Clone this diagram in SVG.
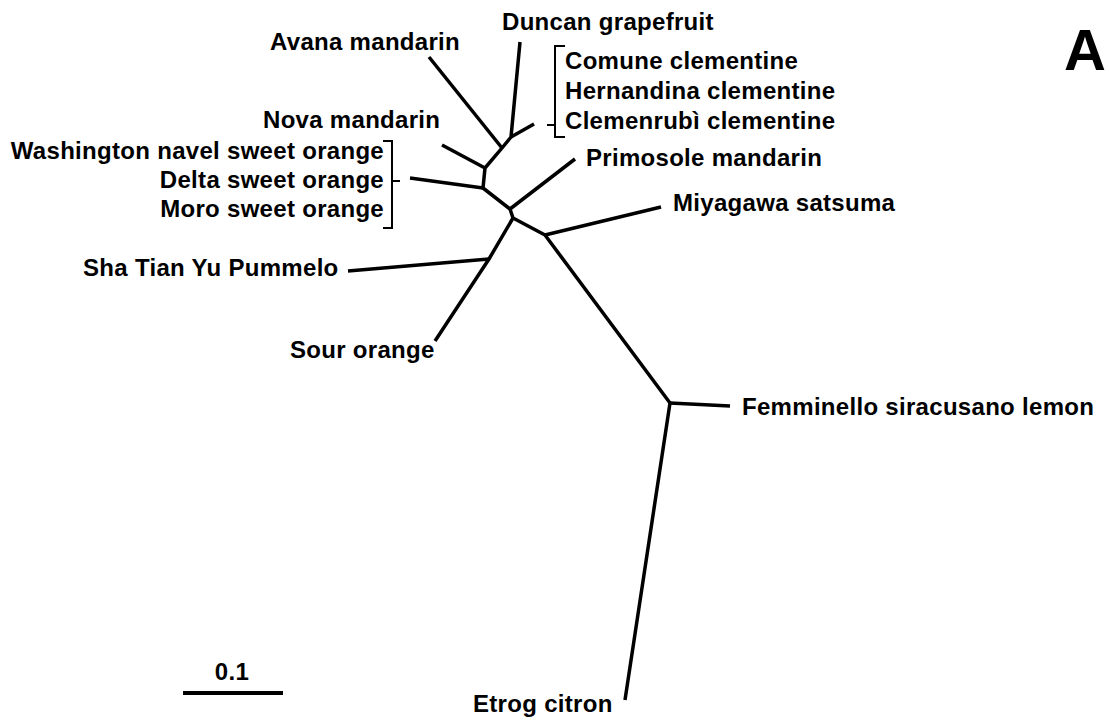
<svg xmlns="http://www.w3.org/2000/svg" width="1111" height="721" viewBox="0 0 1111 721">
<style>
.lbl{font-family:"Liberation Sans",Arial,sans-serif;font-weight:bold;font-size:24px;letter-spacing:0.3px;fill:#000}
.br{fill:none;stroke:#000;stroke-width:3.5;stroke-linejoin:round;stroke-linecap:butt}
.bk{fill:none;stroke:#000;stroke-width:2}
</style>
<rect width="1111" height="721" fill="#fff"/>
<g id="connectors">
<polyline class="br" points="520,42 511,137 502,148 485,168 483,188 510,209 513,218 545,235 670,403 625,700"/>
<polyline class="br" points="511,137 534,124"/>
<polyline class="br" points="429,57 502,148"/>
<polyline class="br" points="442,145 485,168"/>
<polyline class="br" points="410,178 483,188"/>
<polyline class="br" points="510,209 575,159"/>
<polyline class="br" points="513,218 489,259 435,341"/>
<polyline class="br" points="348,271 489,259"/>
<polyline class="br" points="545,235 661,207"/>
<polyline class="br" points="670,403 730,406"/>
<polyline class="bk" points="565,46 555,46 555,137 565,137"/>
<polyline class="bk" points="555,125 547,125"/>
<polyline class="bk" points="383,141 392,141 392,228 383,228"/>
<polyline class="bk" points="392,181 400,181"/>
</g>
<g id="duncan"><text class="lbl" x="502" y="30">Duncan grapefruit</text></g>
<g id="avana"><text class="lbl" x="270" y="50">Avana mandarin</text></g>
<g id="clementines">
<text class="lbl" x="565" y="69">Comune clementine</text>
<text class="lbl" x="565" y="99">Hernandina clementine</text>
<text class="lbl" x="565" y="129">Clemenrubì clementine</text>
</g>
<g id="nova"><text class="lbl" x="263" y="128">Nova mandarin</text></g>
<g id="sweet-oranges">
<text class="lbl" x="384" y="159" text-anchor="end">Washington navel sweet orange</text>
<text class="lbl" x="384" y="188" text-anchor="end">Delta sweet orange</text>
<text class="lbl" x="384" y="217" text-anchor="end">Moro sweet orange</text>
</g>
<g id="primosole"><text class="lbl" x="586" y="166">Primosole mandarin</text></g>
<g id="miyagawa"><text class="lbl" x="673" y="211">Miyagawa satsuma</text></g>
<g id="pummelo"><text class="lbl" x="83" y="276">Sha Tian Yu Pummelo</text></g>
<g id="sour"><text class="lbl" x="290" y="358">Sour orange</text></g>
<g id="femminello"><text class="lbl" x="742" y="415">Femminello siracusano lemon</text></g>
<g id="etrog"><text class="lbl" x="473" y="712">Etrog citron</text></g>
<g id="scale">
<line x1="183" y1="693" x2="283" y2="693" stroke="#000" stroke-width="4"/>
<text class="lbl" x="232" y="680" text-anchor="middle">0.1</text>
</g>
<g id="panel-label"><text class="lbl" x="1064" y="70" style="font-size:58px;letter-spacing:0">A</text></g>
</svg>
